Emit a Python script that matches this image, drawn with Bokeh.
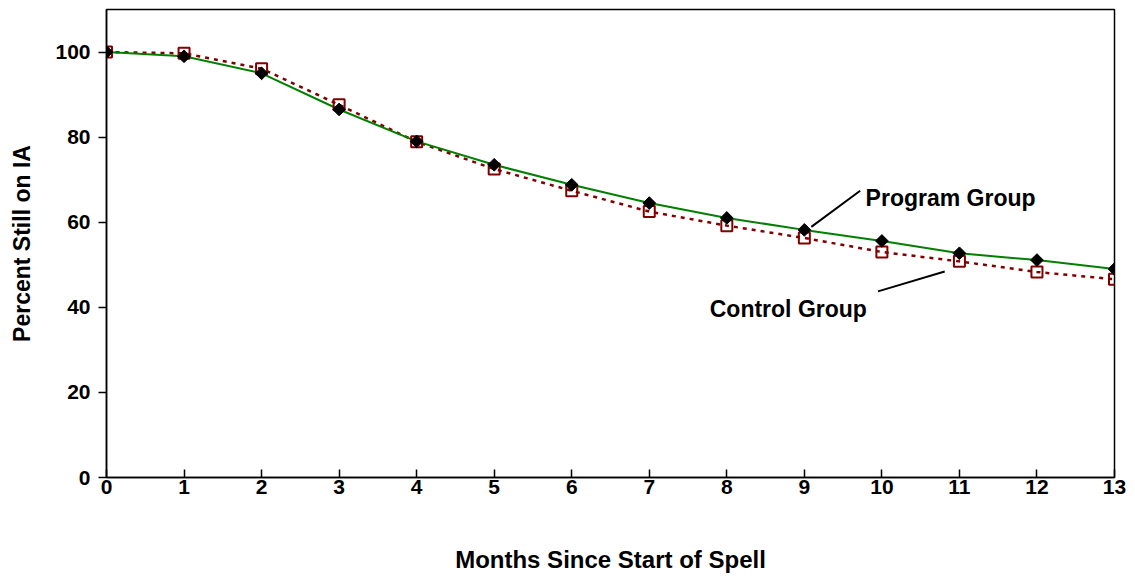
import math
from bokeh.plotting import figure
from bokeh.models import ColumnDataSource, Range1d, FixedTicker, Label
from bokeh.embed import file_html
from bokeh.resources import INLINE

months = list(range(14))
program_group = [100, 99.0, 95.0, 86.5, 79.0, 73.5, 68.8, 64.5, 61.0, 58.2, 55.6, 52.7, 51.1, 49.0]
control_group = [100, 99.7, 96.1, 87.6, 78.9, 72.5, 67.4, 62.5, 59.2, 56.3, 53.0, 50.8, 48.3, 46.6]
x_ticks = list(range(14))
y_ticks = [0, 20, 40, 60, 80, 100]

FONT = "Liberation Sans"

p = figure(width=1127, height=575, output_backend="svg", toolbar_location=None,
           x_range=Range1d(0, 13), y_range=Range1d(0, 110),
           min_border_left=106, min_border_right=13, min_border_top=9, min_border_bottom=95)
p.background_fill_color = "white"
p.border_fill_color = "white"
p.outline_line_color = "black"
p.outline_line_width = 1.5
p.xgrid.visible = False
p.ygrid.visible = False

src = ColumnDataSource(dict(x=months, prog=program_group, ctrl=control_group))

p.line("x", "ctrl", source=src, line_color="#800000", line_width=2.5, line_dash="4 5")
p.line("x", "prog", source=src, line_color="#008000", line_width=2)
p.scatter("x", "ctrl", source=src, marker="square", size=11, fill_color="white",
          fill_alpha=0.0, line_color="#800000", line_width=2)
p.scatter("x", "prog", source=src, marker="square", size=9, angle=math.pi / 4,
          fill_color="black", line_color="black")

# axes
xa = p.xaxis[0]
xa.ticker = FixedTicker(ticks=x_ticks)
xa.major_tick_in = 8
xa.major_tick_out = 0
xa.minor_tick_line_color = None
xa.axis_line_width = 1.5
xa.major_tick_line_width = 1.5
xa.major_label_text_font = FONT
xa.major_label_text_font_style = "bold"
xa.major_label_text_font_size = "21px"
xa.major_label_text_color = "black"
xa.major_label_standoff = 2
xa.axis_label = "Months Since Start of Spell"
xa.axis_label_text_font = FONT
xa.axis_label_text_font_style = "bold"
xa.axis_label_text_font_size = "24px"
xa.axis_label_text_color = "black"
xa.axis_label_standoff = 49

ya = p.yaxis[0]
ya.ticker = FixedTicker(ticks=y_ticks)
ya.major_tick_in = 0
ya.major_tick_out = 8
ya.minor_tick_line_color = None
ya.axis_line_width = 1.5
ya.major_tick_line_width = 1.5
ya.major_label_text_font = FONT
ya.major_label_text_font_style = "bold"
ya.major_label_text_font_size = "21px"
ya.major_label_text_color = "black"
ya.major_label_standoff = 8
ya.axis_label = "Percent Still on IA"
ya.axis_label_text_font = FONT
ya.axis_label_text_font_style = "bold"
ya.axis_label_text_font_size = "23px"
ya.axis_label_text_color = "black"
ya.axis_label_standoff = 17

# annotations
lead = ColumnDataSource(dict(x0=[9.09, 9.95], y0=[58.9, 43.75], x1=[9.72, 10.81], y1=[67.4, 48.4]))
p.segment("x0", "y0", "x1", "y1", source=lead, line_color="black", line_width=2)

p.add_layout(Label(x=9.79, y=65.7, text="Program Group", text_font=FONT, text_color="black",
                   text_font_style="bold", text_font_size="23px", text_baseline="alphabetic"))
p.add_layout(Label(x=7.78, y=39.5, text="Control Group", text_font=FONT, text_color="black",
                   text_font_style="bold", text_font_size="23px", text_baseline="alphabetic"))

open("out.html", "w").write(file_html(p, INLINE))
